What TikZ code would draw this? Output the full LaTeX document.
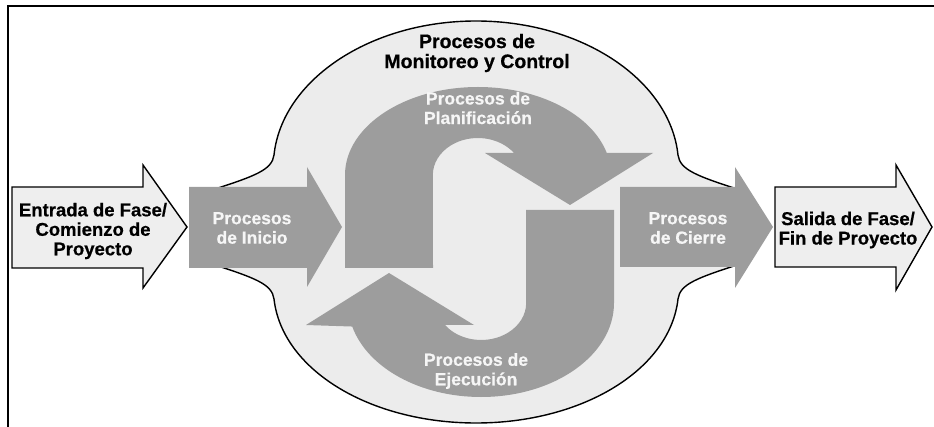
\documentclass[tikz,border=0pt]{standalone}
\usepackage{fontspec}
\setmainfont{Liberation Sans}[BoldFeatures={FakeBold=0.6}]
\usepackage{xcolor}
\usepackage{tikz}

\definecolor{procgray}{RGB}{157,157,157}
\definecolor{bloblight}{RGB}{236,236,236}
\definecolor{phaselight}{RGB}{238,238,238}
\definecolor{lbllight}{RGB}{246,246,246}

\begin{document}
\begin{tikzpicture}[x=1pt,y=-1pt,
  blob/.style={draw=black,line width=1.4pt,fill=bloblight},
  procarrow/.style={fill=procgray},
  phasearrow/.style={draw=black,line width=1.4pt,fill=phaselight},
  whitelbl/.style={align=center,text=lbllight,font=\fontsize{17.5}{19.5}\selectfont\bfseries},
  blacklbl/.style={align=center,text=black,font=\fontsize{18.5}{19.5}\selectfont\bfseries}]
\useasboundingbox (0,0) rectangle (934,427);
\draw[line width=1.6pt] (8,427) -- (8,6) -- (934,6);
\filldraw[blob] (212,190) .. controls (255,176) and (272,170) .. (274,155)
  .. controls (282,80) and (370,21) .. (476,21)
  .. controls (582,21) and (670,80) .. (678,155)
  .. controls (680,170) and (697,176) .. (740,190) -- (740,264)
  .. controls (697,278) and (680,284) .. (678,299)
  .. controls (670,370) and (582,423) .. (476,423)
  .. controls (370,423) and (282,370) .. (274,299)
  .. controls (272,284) and (255,278) .. (212,264) -- cycle;
\fill[procarrow] (345,268) -- (345,175) arc[start angle=180,end angle=345.5,x radius=133,y radius=88]
  -- (653,153) -- (570,205) -- (485,153) -- (514,153)
  arc[start angle=323.5,end angle=180,x radius=45,y radius=37] -- (433,268) -- cycle;
\begin{scope}[rotate around={180:(479.5,239)}]
\fill[procarrow] (345,268) -- (345,175) arc[start angle=180,end angle=345.5,x radius=133,y radius=94]
  -- (653,153) -- (570,205) -- (485,153) -- (514,153)
  arc[start angle=323.5,end angle=180,x radius=45,y radius=37] -- (433,268) -- cycle;
\end{scope}
\fill[procarrow] (189,187) -- (307,187) -- (307,167) -- (342,227) -- (307,287) -- (307,268) -- (189,268) -- cycle;
\fill[procarrow] (620,187) -- (735,187) -- (735,167) -- (773,227) -- (735,288) -- (735,267) -- (620,267) -- cycle;
\filldraw[phasearrow] (12,187) -- (143,187) -- (143,165) -- (187,227) -- (143,288) -- (143,268) -- (12,268) -- cycle;
\filldraw[phasearrow] (775,187) -- (896,187) -- (896,165) -- (932,227) -- (896,290) -- (896,267) -- (775,267) -- cycle;
\node (monitoreo) at (477,53) [blacklbl,font=\fontsize{19.5}{20}\selectfont\bfseries] {Procesos de\\Monitoreo y Control};
\node (planif) at (478,108) [whitelbl] {Procesos de\\Planificación};
\node (ejec) at (476,371) [whitelbl] {Procesos de\\Ejecución};
\node (inicio) at (252,228) [whitelbl] {Procesos\\de Inicio};
\node (cierre) at (688,228) [whitelbl] {Procesos\\de Cierre};
\node (entrada) at (93,231) [blacklbl] {Entrada de Fase/\\Comienzo de\\Proyecto};
\node (salida) at (848,230) [blacklbl] {Salida de Fase/\\Fin de Proyecto};
\end{tikzpicture}
\end{document}
